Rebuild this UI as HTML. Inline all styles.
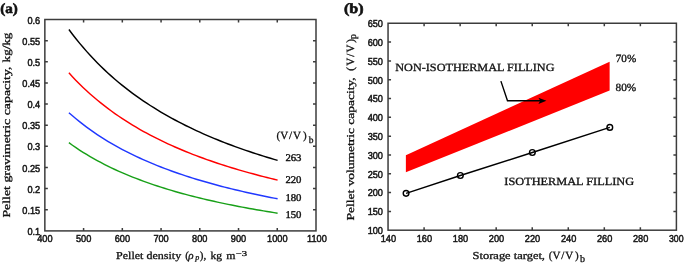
<!DOCTYPE html>
<html><head><meta charset="utf-8"><style>
html,body{margin:0;padding:0;background:#fff;}
body{width:685px;height:265px;overflow:hidden;}
svg{display:block;text-rendering:geometricPrecision;filter:blur(0.35px);}
</style></head><body>
<svg width="685" height="265" viewBox="0 0 685 265">
<rect width="685" height="265" fill="#fff"/>
<rect x="44.85" y="19.5" width="271.15" height="211.40" fill="none" stroke="#3c3c3c" stroke-width="1.5"/>
<rect x="388.05" y="23.25" width="288.35" height="206.95" fill="none" stroke="#3c3c3c" stroke-width="1.5"/>
<path d="M83.59 230.9v-3M83.59 19.5v3M122.32 230.9v-3M122.32 19.5v3M161.06 230.9v-3M161.06 19.5v3M199.79 230.9v-3M199.79 19.5v3M238.53 230.9v-3M238.53 19.5v3M277.26 230.9v-3M277.26 19.5v3M44.85 209.76h3M316.0 209.76h-3M44.85 188.62h3M316.0 188.62h-3M44.85 167.48h3M316.0 167.48h-3M44.85 146.34h3M316.0 146.34h-3M44.85 125.20h3M316.0 125.20h-3M44.85 104.06h3M316.0 104.06h-3M44.85 82.92h3M316.0 82.92h-3M44.85 61.78h3M316.0 61.78h-3M44.85 40.64h3M316.0 40.64h-3M424.09 230.2v-3M424.09 23.25v3M460.14 230.2v-3M460.14 23.25v3M496.18 230.2v-3M496.18 23.25v3M532.23 230.2v-3M532.23 23.25v3M568.27 230.2v-3M568.27 23.25v3M604.31 230.2v-3M604.31 23.25v3M640.36 230.2v-3M640.36 23.25v3M388.05 211.39h3M676.4 211.39h-3M388.05 192.57h3M676.4 192.57h-3M388.05 173.76h3M676.4 173.76h-3M388.05 154.95h3M676.4 154.95h-3M388.05 136.13h3M676.4 136.13h-3M388.05 117.32h3M676.4 117.32h-3M388.05 98.50h3M676.4 98.50h-3M388.05 79.69h3M676.4 79.69h-3M388.05 60.88h3M676.4 60.88h-3M388.05 42.06h3M676.4 42.06h-3" stroke="#3c3c3c" stroke-width="1.5" fill="none"/>
<g font-family='"Liberation Sans", sans-serif' font-size="9.6" fill="#111" stroke="#111" stroke-width="0.45"><text transform="translate(44.85,242.10) scale(0.96,1.05)" text-anchor="middle">400</text><text transform="translate(83.59,242.10) scale(0.96,1.05)" text-anchor="middle">500</text><text transform="translate(122.32,242.10) scale(0.96,1.05)" text-anchor="middle">600</text><text transform="translate(161.06,242.10) scale(0.96,1.05)" text-anchor="middle">700</text><text transform="translate(199.79,242.10) scale(0.96,1.05)" text-anchor="middle">800</text><text transform="translate(238.53,242.10) scale(0.96,1.05)" text-anchor="middle">900</text><text transform="translate(277.26,242.10) scale(0.96,1.05)" text-anchor="middle">1000</text><text transform="translate(316.90,242.10) scale(0.96,1.05)" text-anchor="middle">1100</text><text transform="translate(40.20,235.00) scale(0.96,1.05)" text-anchor="end">0.1</text><text transform="translate(40.20,213.85) scale(0.96,1.05)" text-anchor="end">0.15</text><text transform="translate(40.20,192.72) scale(0.96,1.05)" text-anchor="end">0.2</text><text transform="translate(40.20,171.58) scale(0.96,1.05)" text-anchor="end">0.25</text><text transform="translate(40.20,150.43) scale(0.96,1.05)" text-anchor="end">0.3</text><text transform="translate(40.20,129.30) scale(0.96,1.05)" text-anchor="end">0.35</text><text transform="translate(40.20,108.15) scale(0.96,1.05)" text-anchor="end">0.4</text><text transform="translate(40.20,87.01) scale(0.96,1.05)" text-anchor="end">0.45</text><text transform="translate(40.20,65.88) scale(0.96,1.05)" text-anchor="end">0.5</text><text transform="translate(40.20,44.73) scale(0.96,1.05)" text-anchor="end">0.55</text><text transform="translate(40.20,23.59) scale(0.96,1.05)" text-anchor="end">0.6</text><text transform="translate(388.35,242.10) scale(0.96,1.05)" text-anchor="middle">140</text><text transform="translate(424.39,242.10) scale(0.96,1.05)" text-anchor="middle">160</text><text transform="translate(460.44,242.10) scale(0.96,1.05)" text-anchor="middle">180</text><text transform="translate(496.48,242.10) scale(0.96,1.05)" text-anchor="middle">200</text><text transform="translate(532.52,242.10) scale(0.96,1.05)" text-anchor="middle">220</text><text transform="translate(568.57,242.10) scale(0.96,1.05)" text-anchor="middle">240</text><text transform="translate(604.61,242.10) scale(0.96,1.05)" text-anchor="middle">260</text><text transform="translate(640.66,242.10) scale(0.96,1.05)" text-anchor="middle">280</text><text transform="translate(676.30,242.10) scale(0.96,1.05)" text-anchor="middle" textLength="15.2" lengthAdjust="spacingAndGlyphs">300</text><text transform="translate(383.00,234.08) scale(0.96,1.05)" text-anchor="end">100</text><text transform="translate(383.00,215.27) scale(0.96,1.05)" text-anchor="end">150</text><text transform="translate(383.00,196.46) scale(0.96,1.05)" text-anchor="end">200</text><text transform="translate(383.00,177.64) scale(0.96,1.05)" text-anchor="end">250</text><text transform="translate(383.00,158.83) scale(0.96,1.05)" text-anchor="end">300</text><text transform="translate(383.00,140.02) scale(0.96,1.05)" text-anchor="end">350</text><text transform="translate(383.00,121.20) scale(0.96,1.05)" text-anchor="end">400</text><text transform="translate(383.00,102.39) scale(0.96,1.05)" text-anchor="end">450</text><text transform="translate(383.00,83.58) scale(0.96,1.05)" text-anchor="end">500</text><text transform="translate(383.00,64.76) scale(0.96,1.05)" text-anchor="end">550</text><text transform="translate(383.00,45.95) scale(0.96,1.05)" text-anchor="end">600</text><text transform="translate(383.00,27.14) scale(0.96,1.05)" text-anchor="end">650</text></g>
<polyline points="68.90,29.50 72.44,34.21 75.97,38.75 79.51,43.11 83.05,47.31 86.59,51.37 90.12,55.28 93.66,59.05 97.20,62.70 100.74,66.22 104.27,69.63 107.81,72.92 111.35,76.11 114.88,79.20 118.42,82.20 121.96,85.10 125.50,87.92 129.03,90.65 132.57,93.30 136.11,95.88 139.65,98.38 143.18,100.82 146.72,103.19 150.26,105.49 153.79,107.73 157.33,109.91 160.87,112.04 164.41,114.11 167.94,116.12 171.48,118.09 175.02,120.01 178.56,121.88 182.09,123.70 185.63,125.49 189.17,127.22 192.71,128.92 196.24,130.58 199.78,132.21 203.32,133.79 206.85,135.34 210.39,136.86 213.93,138.34 217.47,139.79 221.00,141.21 224.54,142.60 228.08,143.96 231.62,145.29 235.15,146.60 238.69,147.88 242.23,149.13 245.76,150.36 249.30,151.56 252.84,152.74 256.38,153.90 259.91,155.03 263.45,156.15 266.99,157.24 270.53,158.31 274.06,159.37 277.60,160.40" fill="none" stroke="#000" stroke-width="1.45"/>
<polyline points="68.90,72.80 72.44,76.66 75.97,80.38 79.51,83.96 83.05,87.40 86.59,90.72 90.12,93.93 93.66,97.02 97.20,100.01 100.74,102.90 104.27,105.69 107.81,108.39 111.35,111.01 114.88,113.54 118.42,116.00 121.96,118.38 125.50,120.69 129.03,122.93 132.57,125.10 136.11,127.21 139.65,129.27 143.18,131.26 146.72,133.20 150.26,135.09 153.79,136.93 157.33,138.71 160.87,140.46 164.41,142.15 167.94,143.81 171.48,145.42 175.02,146.99 178.56,148.52 182.09,150.02 185.63,151.48 189.17,152.91 192.71,154.30 196.24,155.66 199.78,156.99 203.32,158.29 206.85,159.56 210.39,160.80 213.93,162.02 217.47,163.21 221.00,164.37 224.54,165.51 228.08,166.62 231.62,167.72 235.15,168.79 238.69,169.83 242.23,170.86 245.76,171.87 249.30,172.85 252.84,173.82 256.38,174.77 259.91,175.70 263.45,176.61 266.99,177.51 270.53,178.39 274.06,179.25 277.60,180.10" fill="none" stroke="#ff0000" stroke-width="1.45"/>
<polyline points="68.90,112.70 72.44,115.80 75.97,118.78 79.51,121.65 83.05,124.42 86.59,127.08 90.12,129.65 93.66,132.14 97.20,134.53 100.74,136.85 104.27,139.09 107.81,141.26 111.35,143.36 114.88,145.39 118.42,147.36 121.96,149.27 125.50,151.12 129.03,152.92 132.57,154.67 136.11,156.36 139.65,158.01 143.18,159.61 146.72,161.17 150.26,162.68 153.79,164.16 157.33,165.59 160.87,166.99 164.41,168.35 167.94,169.68 171.48,170.97 175.02,172.23 178.56,173.46 182.09,174.66 185.63,175.83 189.17,176.98 192.71,178.10 196.24,179.19 199.78,180.26 203.32,181.30 206.85,182.32 210.39,183.31 213.93,184.29 217.47,185.24 221.00,186.18 224.54,187.09 228.08,187.99 231.62,188.86 235.15,189.72 238.69,190.56 242.23,191.39 245.76,192.19 249.30,192.99 252.84,193.76 256.38,194.52 259.91,195.27 263.45,196.00 266.99,196.72 270.53,197.43 274.06,198.12 277.60,198.80" fill="none" stroke="#2038ff" stroke-width="1.45"/>
<polyline points="68.90,142.70 72.44,145.24 75.97,147.68 79.51,150.03 83.05,152.29 86.59,154.48 90.12,156.58 93.66,158.62 97.20,160.58 100.74,162.48 104.27,164.31 107.81,166.09 111.35,167.80 114.88,169.47 118.42,171.08 121.96,172.65 125.50,174.16 129.03,175.63 132.57,177.06 136.11,178.45 139.65,179.80 143.18,181.11 146.72,182.39 150.26,183.63 153.79,184.83 157.33,186.01 160.87,187.15 164.41,188.27 167.94,189.35 171.48,190.41 175.02,191.45 178.56,192.45 182.09,193.44 185.63,194.40 189.17,195.33 192.71,196.25 196.24,197.14 199.78,198.02 203.32,198.87 206.85,199.70 210.39,200.52 213.93,201.32 217.47,202.10 221.00,202.86 224.54,203.61 228.08,204.35 231.62,205.06 235.15,205.77 238.69,206.45 242.23,207.13 245.76,207.79 249.30,208.44 252.84,209.07 256.38,209.70 259.91,210.31 263.45,210.91 266.99,211.50 270.53,212.08 274.06,212.64 277.60,213.20" fill="none" stroke="#18a018" stroke-width="1.45"/>
<polygon points="405.85,155.20 609.60,61.80 609.60,90.60 405.85,172.30" fill="#ff0000"/>
<polyline points="406.07,193.35 460.35,175.50 532.35,152.50 609.80,127.40" fill="none" stroke="#000" stroke-width="1.45"/>
<circle cx="406.07" cy="193.35" r="2.85" fill="none" stroke="#000" stroke-width="1.4"/>
<circle cx="460.35" cy="175.50" r="2.85" fill="none" stroke="#000" stroke-width="1.4"/>
<circle cx="532.35" cy="152.50" r="2.85" fill="none" stroke="#000" stroke-width="1.4"/>
<circle cx="609.80" cy="127.40" r="2.85" fill="none" stroke="#000" stroke-width="1.4"/>
<path d="M500.9 81.1L507.5 100.7H541" fill="none" stroke="#000" stroke-width="1.4"/>
<path d="M546.4 100.8L538.4 97.7L540.2 100.8L538.4 103.9Z" fill="#000"/>
<g font-family='"Liberation Serif", serif' fill="#111" stroke="#111" stroke-width="0.3"><text x="0.3" y="13" font-weight="bold" font-size="14" stroke-width="0.6" textLength="17.6" lengthAdjust="spacingAndGlyphs">(a)</text><text x="344" y="13" font-weight="bold" font-size="14" stroke-width="0.6" textLength="19.6" lengthAdjust="spacingAndGlyphs">(b)</text><text x="116.0" y="259.4" font-size="10.6" textLength="65.2" lengthAdjust="spacingAndGlyphs">Pellet density</text><text x="185.2" y="259.4" font-size="11">(</text><text x="188.2" y="259.4" font-size="11" font-style="italic">ρ</text><text x="195.3" y="260.29999999999995" font-size="8" font-style="italic">p</text><text x="199.8" y="259.4" font-size="11">),</text><text x="210.5" y="259.4" font-size="10.6" textLength="11.6" lengthAdjust="spacingAndGlyphs">kg</text><text x="226.3" y="259.4" font-size="10.6" textLength="9.2" lengthAdjust="spacingAndGlyphs">m</text><text x="235.8" y="256.09999999999997" font-size="7.5" textLength="11.4" lengthAdjust="spacingAndGlyphs">−3</text><text transform="translate(9.8,217.6) rotate(-90)" font-size="10.6" textLength="151.0" lengthAdjust="spacingAndGlyphs">Pellet gravimetric capacity,</text><text transform="translate(9.8,62.4) rotate(-90)" font-size="10.6" textLength="29.8" lengthAdjust="spacingAndGlyphs">kg/kg</text><text x="276.55 280.15 289.0 292.9 303.05" y="138.6" font-size="11">(V/V)</text><text x="308.7" y="142.5" font-size="9.5">b</text><text x="285.4" y="161" font-size="10.3" textLength="16.1" lengthAdjust="spacingAndGlyphs" stroke-width="0.4">263</text><text x="285.4" y="182.8" font-size="10.3" textLength="16.1" lengthAdjust="spacingAndGlyphs" stroke-width="0.4">220</text><text x="285.4" y="201" font-size="10.3" textLength="16.1" lengthAdjust="spacingAndGlyphs" stroke-width="0.4">180</text><text x="285.4" y="217.6" font-size="10.3" textLength="16.1" lengthAdjust="spacingAndGlyphs" stroke-width="0.4">150</text><text x="395.3" y="71.1" font-size="11" textLength="159.2" lengthAdjust="spacingAndGlyphs">NON-ISOTHERMAL FILLING</text><text x="504.3" y="185.2" font-size="11" textLength="129.8" lengthAdjust="spacingAndGlyphs">ISOTHERMAL FILLING</text><text x="615.8" y="61.7" font-size="11" textLength="20.4" lengthAdjust="spacingAndGlyphs" stroke-width="0.35">70%</text><text x="615.5" y="91.2" font-size="11" textLength="20.7" lengthAdjust="spacingAndGlyphs" stroke-width="0.35">80%</text><text x="472.6" y="258.7" font-size="10.6" textLength="72.4" lengthAdjust="spacingAndGlyphs">Storage target,</text><text x="548.85 552.6 561.3 565.2 575.05" y="258.8" font-size="11">(V/V)</text><text x="579.9" y="262.4" font-size="10">b</text><text transform="translate(354.2,220.4) rotate(-90)" font-size="10.6" textLength="143.1" lengthAdjust="spacingAndGlyphs">Pellet volumetric capacity,</text><text transform="translate(354.3,72.4) rotate(-90)" x="1.6 6.65 15.55 19.9 29.6" font-size="11">(V/V)</text><text transform="translate(355.5,39.0) rotate(-90)" font-size="10">p</text></g>
</svg>
</body></html>
